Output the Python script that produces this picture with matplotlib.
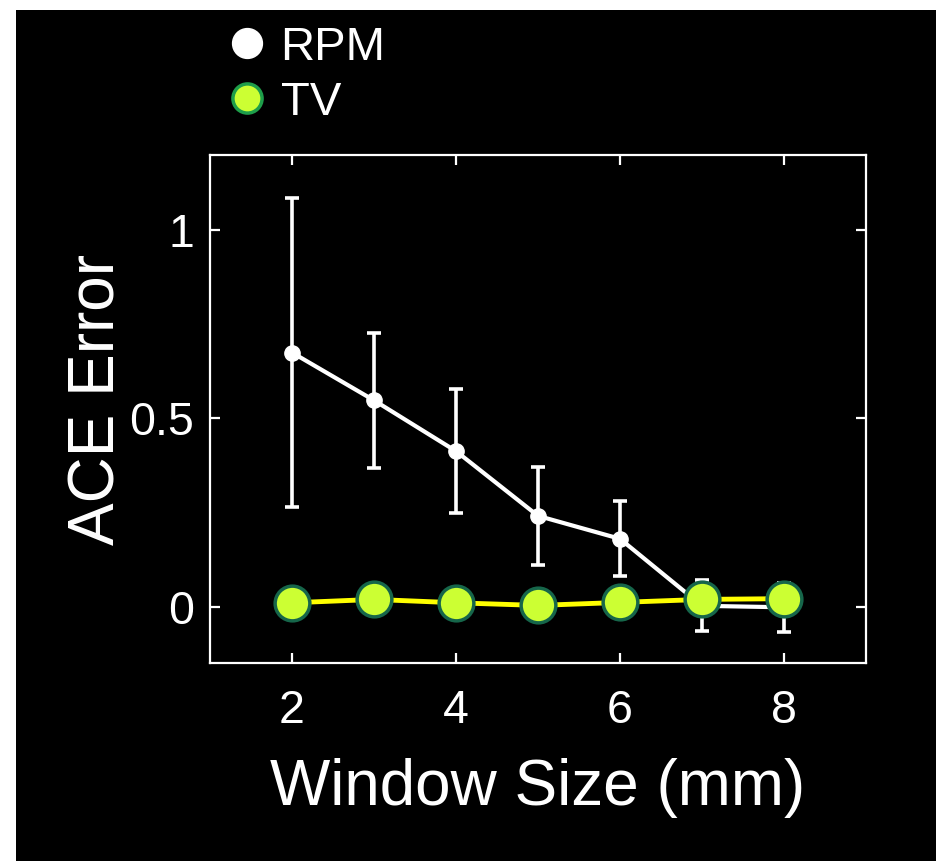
import matplotlib
matplotlib.use("Agg")
import matplotlib.pyplot as plt
from matplotlib.lines import Line2D
from matplotlib.patches import Rectangle

plt.rcParams['font.family'] = ['Liberation Sans', 'DejaVu Sans']

window = [2, 3, 4, 5, 6, 7, 8]
rpm_mean = [0.675, 0.548, 0.413, 0.241, 0.180, 0.002, -0.002]
rpm_err = [0.41, 0.18, 0.165, 0.13, 0.10, 0.068, 0.065]
tv_mean = [0.010, 0.019, 0.010, 0.003, 0.011, 0.019, 0.021]
xticks = [2, 4, 6, 8]
yticks = [0, 0.5, 1]
ytick_labels = ['0', '0.5', '1']

W, H = 936, 861
fig = plt.figure(figsize=(W / 100, H / 100), dpi=100, facecolor='white')
fig.patches.append(Rectangle((16 / W, 0), 1 - 16 / W, 1 - 10 / H,
                             transform=fig.transFigure, facecolor='black',
                             edgecolor='none', zorder=-10))

ax = fig.add_axes([210 / W, 1 - 663 / H, (866 - 210) / W, (663 - 155) / H])
ax.set_facecolor('black')

ax.errorbar(window, rpm_mean, yerr=rpm_err, color='white', lw=3,
            elinewidth=2.6, capsize=5, capthick=2.6, marker='o', ms=11,
            mfc='white', mec='white', zorder=2)
ax.plot(window, tv_mean, color='#ffff00', lw=3.5, marker='o', ms=25,
        mfc='#ccff33', mec='#16664a', mew=2.5, zorder=3)

ax.set_xlim(1, 9)
ax.set_ylim(-0.15, 1.2)
ax.set_xticks(xticks)
ax.set_yticks(yticks)
ax.set_yticklabels(ytick_labels)
for s in ax.spines.values():
    s.set_color('white')
    s.set_linewidth(1.6)
ax.tick_params(direction='in', length=7, width=1.6, colors='white',
               labelsize=33.5, top=True, right=True)
ax.tick_params(axis='x', pad=19)
ax.tick_params(axis='y', pad=11.5)
ax.set_xlabel('Window Size (mm)', fontsize=46, color='white', labelpad=18)
ax.set_ylabel('ACE Error', fontsize=46, color='white')
ax.yaxis.set_label_coords(-0.126, 0.518)

handles = [
    Line2D([], [], linestyle='none', marker='o', ms=21.5, mfc='white', mec='white'),
    Line2D([], [], linestyle='none', marker='o', ms=21, mfc='#ccff33',
           mec='#1e9e4a', mew=2.5),
]
leg = fig.legend(handles, ['RPM', 'TV'], loc='upper left',
                 bbox_to_anchor=(223 / W, 1 - 26 / H), frameon=False,
                 fontsize=34, handlelength=1.0, handletextpad=0.22,
                 labelspacing=0.23, borderpad=0.0, borderaxespad=0.0)
for t in leg.get_texts():
    t.set_color('white')

fig.savefig('out.png', dpi=100, facecolor=fig.get_facecolor())
